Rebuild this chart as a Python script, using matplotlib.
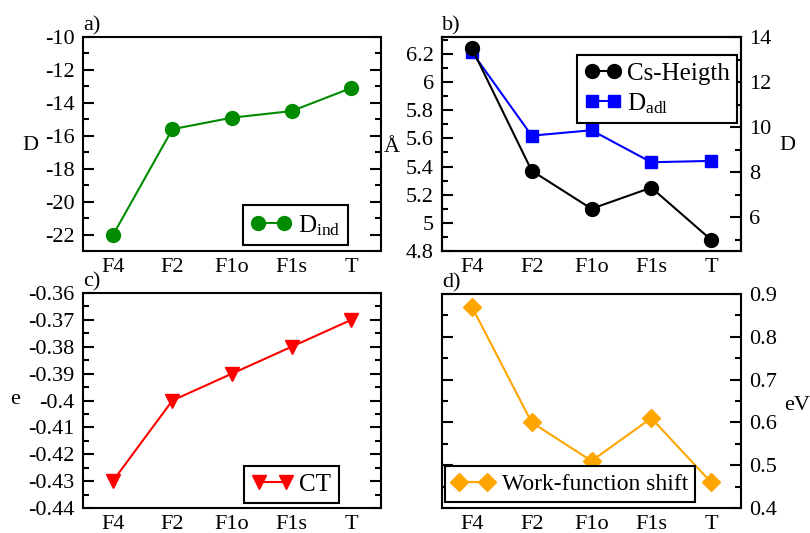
import numpy as np
import matplotlib
matplotlib.use('Agg')
import matplotlib.pyplot as plt
from matplotlib.ticker import MultipleLocator, FormatStrFormatter

plt.rcParams['font.family'] = ['Liberation Serif', 'DejaVu Serif']
plt.rcParams['mathtext.fontset'] = 'custom'
plt.rcParams['mathtext.rm'] = 'Liberation Serif'
plt.rcParams['mathtext.it'] = 'Liberation Serif:italic'
plt.rcParams['axes.unicode_minus'] = False

# data
systems = ['F4', 'F2', 'F1o', 'F1s', 'T']
d_ind = [-22.05, -15.6, -14.9, -14.5, -13.1]
cs_height = [6.24, 5.37, 5.10, 5.25, 4.88]
d_adl = [13.33, 9.62, 9.86, 8.44, 8.5]
ct = [-0.43, -0.40, -0.39, -0.38, -0.37]
wf_shift = [0.87, 0.60, 0.51, 0.61, 0.46]

x = np.arange(len(systems))
fs = 16
lfs = 18
W, H = 810, 533

fig = plt.figure(figsize=(8.1, 5.33), dpi=100)

def box(l, t, r, b):
    return [l / W, 1 - b / H, (r - l) / W, (b - t) / H]

def style(ax):
    for s in ax.spines.values():
        s.set_linewidth(1.5)
    ax.set_xlim(-0.5, 4.5)
    ax.set_xticks(x)
    ax.set_xticklabels(systems)
    ax.tick_params(axis='x', length=0, pad=5, labelsize=fs)
    ax.tick_params(axis='y', which='both', direction='in', width=1.5, labelsize=fs, pad=6)
    ax.tick_params(axis='y', which='major', length=8)
    ax.tick_params(axis='y', which='minor', length=4)
    ax.yaxis.set_major_formatter(FormatStrFormatter('%g'))

def legend(ax, handles=None, labels=None, size=lfs, hl=1.65, htp=0.25, ls=0.35, **kw):
    if handles is None:
        handles, labels = ax.get_legend_handles_labels()
    lg = ax.legend(handles, labels, numpoints=2, fontsize=size, fancybox=False,
                   framealpha=1, edgecolor='black', borderaxespad=0, handlelength=hl,
                   handletextpad=htp, borderpad=0.3, labelspacing=ls, **kw)
    lg.get_frame().set_linewidth(1.5)
    return lg

# a)
ax1 = fig.add_axes(box(83, 37, 381, 251))
ax1.plot(x, d_ind, '-o', color='#008b00', lw=1.5, ms=10, label=r'D$_{\rm ind}$')
ax1.set_ylim(-23, -10)
ax1.yaxis.set_major_locator(MultipleLocator(2))
ax1.yaxis.set_minor_locator(MultipleLocator(1))
style(ax1)
ax1.tick_params(axis='y', which='both', right=True)
legend(ax1, loc='lower right', bbox_to_anchor=(0.889, 0.028))

# b)
ax2 = fig.add_axes(box(442, 37, 741, 251))
ax2.plot(x, cs_height, '-o', color='black', lw=1.5, ms=10, label='Cs-Heigth', zorder=3)
ax2.set_ylim(4.8, 6.32)
ax2.yaxis.set_major_locator(MultipleLocator(0.2))
ax2.yaxis.set_minor_locator(MultipleLocator(0.1))
style(ax2)
ax2b = ax2.twinx()
ax2b.plot(x, d_adl, '-s', color='#0000ff', lw=1.5, ms=8, label=r'D$_{\rm adl}$', zorder=2)
ax2b.set_ylim(4.5, 14)
ax2b.yaxis.set_major_locator(MultipleLocator(2))
ax2b.yaxis.set_minor_locator(MultipleLocator(1))
style(ax2b)
ax2.set_zorder(ax2b.get_zorder() + 1)
ax2.patch.set_visible(False)
h1, l1 = ax2.get_legend_handles_labels()
h2, l2 = ax2b.get_legend_handles_labels()
legend(ax2, h1 + h2, l1 + l2, hl=1.5, htp=0.2, ls=0.25,
       loc='upper right', bbox_to_anchor=(0.987, 0.916))

# c)
ax3 = fig.add_axes(box(83, 293, 381, 508))
ax3.plot(x, ct, '-v', color='#ff0000', lw=1.5, ms=10, label='CT')
ax3.set_ylim(-0.44, -0.36)
ax3.yaxis.set_major_locator(MultipleLocator(0.01))
ax3.yaxis.set_minor_locator(MultipleLocator(0.005))
style(ax3)
ax3.tick_params(axis='y', which='both', right=True)
legend(ax3, loc='lower right', bbox_to_anchor=(0.859, 0.023))

# d)
ax4 = fig.add_axes(box(442, 294, 741, 508))
ax4.plot(x, wf_shift, '-D', color='#ffa500', lw=1.5, ms=9, label='Work-function shift')
ax4.set_ylim(0.4, 0.9)
ax4.yaxis.set_major_locator(MultipleLocator(0.1))
ax4.yaxis.set_minor_locator(MultipleLocator(0.05))
style(ax4)
ax4.tick_params(axis='y', which='both', left=True, right=True, labelleft=False, labelright=True)
legend(ax4, size=17, hl=1.8, htp=0.3, loc='lower left', bbox_to_anchor=(0.01, 0.028))

# axis labels and panel tags
fig.text(30 / W, 1 - 145 / H, 'D', fontsize=fs, ha='center', va='center')
fig.text(392 / W, 1 - 147 / H, 'Å', fontsize=fs, ha='center', va='center')
fig.text(787 / W, 1 - 145 / H, 'D', fontsize=fs, ha='center', va='center')
fig.text(15 / W, 1 - 400 / H, 'e', fontsize=fs, ha='center', va='center')
fig.text(797 / W, 1 - 405 / H, 'eV', fontsize=fs, ha='center', va='center')
fig.text(83 / W, 1 - 35 / H, 'a)', fontsize=fs, ha='left', va='bottom')
fig.text(442 / W, 1 - 35 / H, 'b)', fontsize=fs, ha='left', va='bottom')
fig.text(83 / W, 1 - 291 / H, 'c)', fontsize=fs, ha='left', va='bottom')
fig.text(442 / W, 1 - 292 / H, 'd)', fontsize=fs, ha='left', va='bottom')

fig.savefig('out.png', dpi=100)
